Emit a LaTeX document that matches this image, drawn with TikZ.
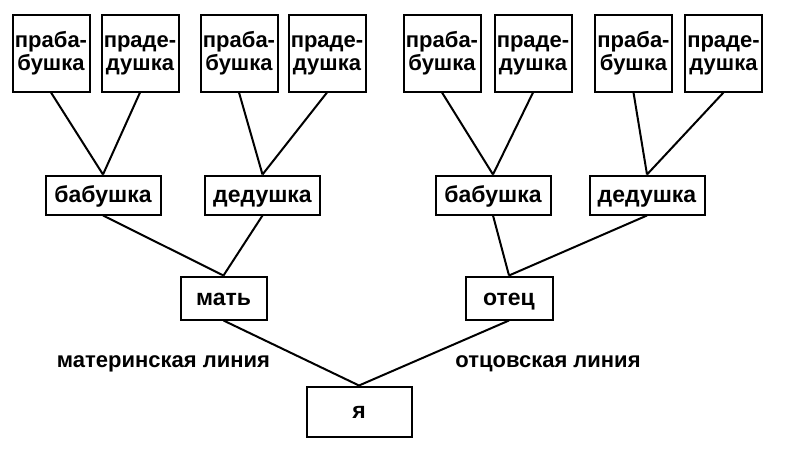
\documentclass[tikz,border=0pt]{standalone}
\usepackage{fontspec}
\setmainfont{Liberation Sans}
\newcommand\kinrow[1]{#1\rule[-6pt]{0pt}{23pt}}

\begin{document}
\begin{tikzpicture}[x=1pt,y=-1pt,
  person/.style={draw, line width=2pt, inner sep=0pt, align=center,
    font=\bfseries\fontsize{22}{23}\selectfont},
  elder/.style={person, minimum width=77pt, minimum height=77pt},
  parent/.style={person, minimum width=115pt, minimum height=39pt,
    font=\bfseries\fontsize{23}{23}\selectfont, text height=17pt, text depth=3pt},
  linelabel/.style={anchor=base, font=\bfseries\fontsize{22}{22}\selectfont},
  link/.style={line width=2pt}]
\useasboundingbox (0,0) rectangle (787,450);
\fill[white] (0,0) rectangle (787,450);
% great-grandparents
\node[elder] (pb1) at (51,53) {\kinrow{праба-}\\\kinrow{бушка}};
\node[elder] (pd1) at (140,53) {\kinrow{праде-}\\\kinrow{душка}};
\node[elder] (pb2) at (239,53) {\kinrow{праба-}\\\kinrow{бушка}};
\node[elder] (pd2) at (327,53) {\kinrow{праде-}\\\kinrow{душка}};
\node[elder] (pb3) at (442,53) {\kinrow{праба-}\\\kinrow{бушка}};
\node[elder] (pd3) at (533,53) {\kinrow{праде-}\\\kinrow{душка}};
\node[elder] (pb4) at (633.5,53) {\kinrow{праба-}\\\kinrow{бушка}};
\node[elder] (pd4) at (723.5,53) {\kinrow{праде-}\\\kinrow{душка}};
% grandparents
\node[parent] (b1) at (103,195) {бабушка};
\node[parent] (d1) at (262.5,195) {дедушка};
\node[parent] (b2) at (493,195) {бабушка};
\node[parent] (d2) at (647,195) {дедушка};
% parents and me
\node[parent, minimum width=86pt, minimum height=43pt] (mat) at (223.5,298) {мать};
\node[parent, minimum width=87pt, minimum height=43pt] (otec) at (509,298) {отец};
\node[parent, minimum width=105pt, minimum height=50pt] (ya) at (359,411.5) {я};
\draw[link] (pb1.south)--(b1.north) (pd1.south)--(b1.north);
\draw[link] (pb2.south)--(d1.north) (pd2.south)--(d1.north);
\draw[link] (pb3.south)--(b2.north) (pd3.south)--(b2.north);
\draw[link] (pb4.south)--(d2.north) (pd4.south)--(d2.north);
\draw[link] (b1.south)--(mat.north) (d1.south)--(mat.north);
\draw[link] (b2.south)--(otec.north) (d2.south)--(otec.north);
\draw[link] (mat.south)--(ya.north) (otec.south)--(ya.north);
\node[linelabel] (mline) at (163.5,367) {материнская линия};
\node[linelabel] (oline) at (548,367) {отцовская линия};
\end{tikzpicture}
\end{document}
